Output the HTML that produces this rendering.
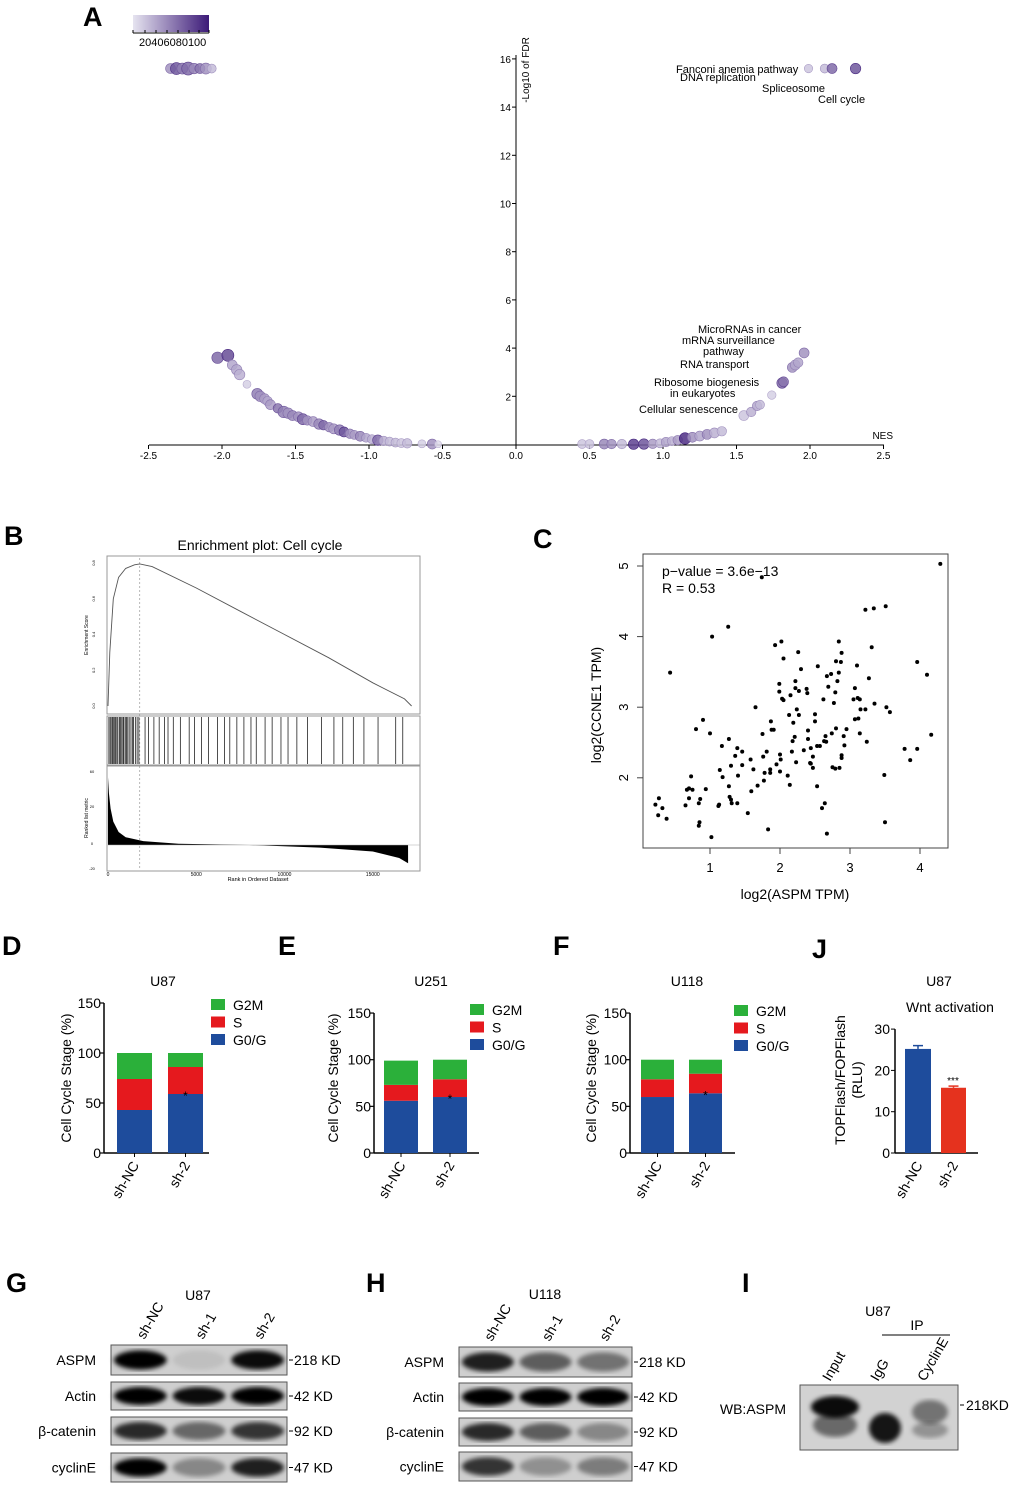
<!DOCTYPE html>
<html><head><meta charset="utf-8"><style>
html,body{margin:0;padding:0;background:#fff}
svg{display:block;font-family:"Liberation Sans",Arial,sans-serif}
</style></head><body>
<svg id="fig" width="1020" height="1488" viewBox="0 0 1020 1488" xmlns="http://www.w3.org/2000/svg">
<defs>
<filter id="blur2"><feGaussianBlur stdDeviation="2.5"/></filter>
<filter id="blur1"><feGaussianBlur stdDeviation="1.2"/></filter>
<linearGradient id="cbar" x1="0" x2="1" y1="0" y2="0"><stop offset="0" stop-color="#e6e4f0"/><stop offset="1" stop-color="#3c1a78"/></linearGradient>
</defs>
<g id="gA"></g>
<g id="gB"></g>
<g id="gC"></g>
<g id="gD"></g>
<g id="gWB"></g>
</svg>
<script>
// ---------- Panel A data ----------
const nesVals=[-2.35,-2.31,-2.27,-2.23,-2.19,-2.15,-2.11,-2.07,-2.03,-1.96,-1.93,-1.9,-1.88,-1.83,-1.76,-1.74,-1.71,-1.69,-1.67,-1.62,-1.58,-1.55,-1.52,-1.48,-1.45,-1.42,-1.38,-1.34,-1.31,-1.27,-1.24,-1.2,-1.17,-1.13,-1.1,-1.06,-1.02,-0.98,-0.94,-0.9,-0.86,-0.82,-0.78,-0.74,-0.64,-0.57,-0.53,0.45,0.5,0.6,0.65,0.72,0.8,0.87,0.93,0.98,1.02,1.06,1.1,1.15,1.2,1.25,1.3,1.35,1.4,1.55,1.6,1.64,1.66,1.74,1.81,1.82,1.88,1.9,1.92,1.96,1.99,2.1,2.15,2.31];
const fdrVals=[15.6,15.6,15.6,15.6,15.6,15.6,15.6,15.6,3.6,3.7,3.3,3.1,2.9,2.5,2.1,2.0,1.9,1.8,1.65,1.5,1.35,1.3,1.2,1.15,1.05,1.0,0.95,0.85,0.8,0.72,0.65,0.6,0.52,0.45,0.4,0.34,0.28,0.22,0.18,0.15,0.12,0.08,0.06,0.05,0.03,0.02,0.01,0.02,0.02,0.02,0.02,0.02,0.01,0.02,0.03,0.05,0.1,0.14,0.18,0.25,0.3,0.35,0.42,0.48,0.55,1.2,1.35,1.6,1.65,2.05,2.55,2.6,3.2,3.3,3.4,3.8,15.6,15.6,15.6,15.6];
const sizeVals=[40,60,50,70,45,40,50,30,55,60,40,45,45,20,50,45,40,35,40,35,55,45,40,40,50,35,40,45,35,35,40,45,40,35,30,40,30,30,45,35,30,30,30,35,20,40,10,30,30,40,35,35,45,45,35,30,35,30,35,55,40,40,40,40,35,40,35,35,30,25,45,40,40,40,35,40,25,30,40,45];
const colorVals=[40,70,50,60,45,55,40,20,60,75,30,30,25,10,50,40,35,30,35,55,50,40,45,40,60,40,35,45,60,40,35,50,70,40,35,45,30,25,60,25,20,20,15,20,10,40,5,15,15,45,40,20,80,70,35,20,30,25,35,90,40,30,40,25,20,15,25,30,20,10,60,55,40,30,30,40,15,20,60,70];
const aXTicks=[-2.5,-2.0,-1.5,-1.0,-0.5,0.0,0.5,1.0,1.5,2.0,2.5];
const aYTicks=[2,4,6,8,10,12,14,16];
// ---------- Panel B data ----------
const esRank=[0,100,300,600,1000,1500,1800,2500,5000,7500,10000,12500,15000,16800,17200];
const esScore=[0,0.3,0.6,0.72,0.77,0.79,0.795,0.78,0.66,0.53,0.40,0.27,0.13,0.04,0];
const hitRanks=[50,120,180,250,300,380,420,500,560,650,700,780,850,900,980,1050,1120,1200,1300,1380,1450,1550,1650,1750,2100,2300,2600,2900,3200,3400,3700,4100,4600,4900,5300,5700,6200,6600,6900,7300,7700,8100,8400,8900,9300,9800,10200,10700,11300,12100,12800,13300,13900,14500,15300,16300,16700];
const metricRank=[0,50,150,300,600,1000,2000,4000,8000,12000,15000,16500,17000];
const metricVal=[52,40,28,18,10,6,3,1,0,-2,-5,-10,-14];
// ---------- Panel C data ----------
const aspmX=[0.22,0.27,0.26,0.32,0.38,0.43,0.65,0.67,0.70,0.73,0.70,0.75,0.80,0.84,0.86,0.84,0.85,0.90,0.94,1.0,1.03,1.02,1.12,1.13,1.14,1.17,1.18,1.26,1.27,1.27,1.28,1.30,1.31,1.30,1.36,1.39,1.40,1.39,1.46,1.46,1.54,1.58,1.59,1.62,1.65,1.68,1.74,1.75,1.76,1.77,1.78,1.81,1.83,1.86,1.86,1.87,1.88,1.91,1.93,1.95,1.99,1.99,2.0,2.0,2.01,2.02,2.03,2.05,2.05,2.11,2.13,2.14,2.15,2.17,2.18,2.19,2.21,2.22,2.22,2.23,2.24,2.26,2.27,2.27,2.30,2.34,2.38,2.39,2.40,2.40,2.43,2.44,2.44,2.47,2.47,2.50,2.50,2.53,2.53,2.54,2.57,2.60,2.62,2.63,2.64,2.65,2.66,2.67,2.67,2.69,2.73,2.74,2.75,2.77,2.79,2.79,2.80,2.80,2.82,2.84,2.84,2.85,2.87,2.88,2.88,2.88,2.91,2.92,2.95,3.05,3.07,3.07,3.10,3.11,3.12,3.14,3.14,3.15,3.22,3.22,3.24,3.27,3.31,3.34,3.35,3.49,3.50,3.51,3.52,3.57,3.78,3.86,3.96,3.96,4.10,4.16,4.29];
const ccneY=[1.62,1.71,1.47,1.57,1.42,3.49,1.61,1.83,1.85,2.02,1.71,1.83,2.69,1.64,1.70,1.32,1.37,2.82,1.84,2.63,4.0,1.16,1.60,1.62,2.11,2.45,2.01,4.14,2.55,1.88,1.73,1.69,1.64,2.17,2.31,2.42,2.03,1.64,2.37,2.18,1.50,2.26,1.81,2.12,3.0,1.89,4.84,2.62,2.30,1.96,2.07,2.37,1.27,2.07,2.12,2.80,2.68,2.68,3.88,2.19,3.33,3.22,2.33,2.09,2.26,3.93,3.12,3.10,3.69,2.03,2.89,1.90,3.17,2.37,2.52,2.78,2.58,3.37,3.27,2.22,2.97,3.78,3.23,2.89,3.54,2.39,3.26,3.20,2.67,2.55,2.21,2.42,2.20,2.30,2.14,2.90,2.80,1.88,2.45,3.58,2.45,1.57,3.11,2.52,1.64,2.59,2.51,1.21,3.44,3.29,3.47,2.63,2.15,3.06,2.13,3.21,2.70,3.65,3.37,3.49,3.93,2.14,3.64,3.77,2.32,2.28,2.59,2.46,2.69,3.11,3.27,2.83,3.59,3.13,2.84,3.11,2.63,2.97,2.97,4.38,2.51,3.41,3.85,4.40,3.05,2.04,1.37,4.43,3.00,2.93,2.41,2.25,3.64,2.41,3.46,2.61,5.03];
const cXTicks=[1,2,3,4];
const cYTicks=[2,3,4,5];
// ---------- Panels D/E/F/J data ----------
const cellGroups=["sh-NC","sh-2"];
const phaseNames=["G2M","S","G0/G"];
const u87G0=[43,59], u87S=[31,27], u87G2M=[26,14];
const u251G0=[56,60], u251S=[17,19], u251G2M=[26,21];
const u118G0=[60,64], u118S=[19,21], u118G2M=[21,15];
const stackTicks=[0,50,100,150];
const wntVals=[25.2,15.8];
const wntErr=[0.8,0.4];
const wntTicks=[0,10,20,30];

const NS="http://www.w3.org/2000/svg";
function mk(parent,tag,attrs,text){const e=document.createElementNS(NS,tag);for(const k in attrs)e.setAttribute(k,attrs[k]);if(text!==undefined)e.textContent=text;parent.appendChild(e);return e;}
function label(parent,x,y,t,size,anchor,extra){const e=mk(parent,'text',Object.assign({x:x,y:y,'font-size':size,'text-anchor':anchor||'start',fill:'#000'},extra||{}),t);return e;}

// ================= Panel A =================
(function(){
const g=document.getElementById('gA');
const ax=v=>516+v*147, ay=v=>444.5-v*24.1;
let t=label(g,83,26,'A',27,'start',{'font-weight':'bold'});

let cb=mk(g,'rect',{x:133,y:15,width:76,height:17,fill:'url(#cbar)'});

mk(g,'line',{x1:133,y1:33,x2:209,y2:33,stroke:'#000','stroke-width':1});
[133,145,156,167,178,189,199,209].forEach(x=>mk(g,'line',{x1:x,y1:30,x2:x,y2:33,stroke:'#000'}));
t=label(g,139,46,'20406080100',11);
let xl=mk(g,'line',{x1:149,y1:445,x2:884,y2:445,stroke:'#000','stroke-width':1});

let yl=mk(g,'line',{x1:516,y1:55,x2:516,y2:445,stroke:'#000','stroke-width':1});

aXTicks.forEach(v=>{mk(g,'line',{x1:ax(v),y1:445,x2:ax(v),y2:449,stroke:'#000'});
 const e=label(g,ax(v),459,v.toFixed(1),10,'middle');});
aYTicks.forEach(v=>{mk(g,'line',{x1:512,y1:ay(v),x2:516,y2:ay(v),stroke:'#000'});
 const e=label(g,511,ay(v)+4,String(v),10,'end');});
t=label(g,0,0,'-Log10 of FDR',10,'middle',{transform:'translate(529,70) rotate(-90)'});

t=label(g,893,439,'NES',10,'end');
function col(c){const a=[230,228,240],b=[60,26,120];const f=c/100;return 'rgb('+a.map((v,i)=>Math.round(v+(b[i]-v)*f)).join(',')+')';}
nesVals.forEach((n,i)=>{const c=mk(g,'circle',{cx:ax(n),cy:ay(fdrVals[i]),r:3+sizeVals[i]/20,fill:col(colorVals[i]),'fill-opacity':0.85,stroke:col(Math.min(100,colorVals[i]+20)),'stroke-width':0.6});
 });
const anns=[['Fanconi anemia pathway',676,73],['DNA replication',680,81],['Spliceosome',762,92],['Cell cycle',818,103],['MicroRNAs in cancer',698,333],['mRNA surveillance',682,344],['pathway',703,355],['RNA transport',680,368],['Ribosome biogenesis',654,386],['in eukaryotes',670,397],['Cellular senescence',639,413]];
anns.forEach(a=>{const e=label(g,a[1],a[2],a[0],11);});
})();

// ================= Panel B =================
(function(){
const g=document.getElementById('gB');
const bx=r=>108+r*0.01765, by=v=>706-v*178.75;
let t=label(g,4,545,'B',27,'start',{'font-weight':'bold'});
t=label(g,260,550,'Enrichment plot: Cell cycle',14,'middle');
[[556,158],[716,49],[766,105]].forEach((r,i)=>{const e=mk(g,'rect',{x:107,y:r[0],width:313,height:r[1],fill:'none',stroke:'#999','stroke-width':1});
 });
[0,0.2,0.4,0.6,0.8].forEach(v=>label(g,93,by(v)+2,v.toFixed(1),4,'middle',{transform:'rotate(-90 93 '+by(v)+')'}));
label(g,0,0,'Enrichment Score',5,'middle',{transform:'translate(88,635) rotate(-90)'});
label(g,0,0,'Ranked list metric',5,'middle',{transform:'translate(88,818) rotate(-90)'});
mk(g,'line',{x1:bx(1800),y1:558,x2:bx(1800),y2:870,stroke:'#888','stroke-dasharray':'2,2','stroke-width':0.6});
let d='';esRank.forEach((r,i)=>{d+=(i?'L':'M')+bx(r).toFixed(1)+','+by(esScore[i]).toFixed(1);});
let p=mk(g,'path',{d:d,fill:'none',stroke:'#555','stroke-width':0.9});
hitRanks.forEach(r=>{const l=mk(g,'line',{x1:bx(r),y1:717,x2:bx(r),y2:764,stroke:'#222','stroke-width':0.8});});
const my=v=>845-v*1.3;
let md='M'+bx(0)+','+my(0);metricRank.forEach((r,i)=>{md+='L'+bx(r).toFixed(1)+','+my(metricVal[i]).toFixed(1);});md+='L'+bx(17000)+','+my(0)+'Z';
p=mk(g,'path',{d:md,fill:'#000'});
mk(g,'line',{x1:108,y1:845,x2:420,y2:845,stroke:'#aaa','stroke-width':0.5});
[[108,'0'],[bx(5000),'5000'],[bx(10000),'10000'],[bx(15000),'15000']].forEach(a=>label(g,a[0],876,a[1],5,'middle'));
label(g,258,881,'Rank in Ordered Dataset',5.5,'middle');
[[773,'60'],[808,'20'],[845,'0'],[870,'-20']].forEach(a=>label(g,92,a[0],a[1],4,'middle'));
})();

// ================= Panel C =================
(function(){
const g=document.getElementById('gC');
const cx=v=>640+v*70, cy=v=>919-v*70.6;
let t=label(g,533,548,'C',27,'start',{'font-weight':'bold'});
let b=mk(g,'rect',{x:643,y:554,width:305,height:294,fill:'none',stroke:'#444','stroke-width':1});
cXTicks.forEach(v=>{mk(g,'line',{x1:cx(v),y1:848,x2:cx(v),y2:854,stroke:'#444'});const e=label(g,cx(v),872,String(v),13,'middle');});
cYTicks.forEach(v=>{mk(g,'line',{x1:637,y1:cy(v),x2:643,y2:cy(v),stroke:'#444'});const e=label(g,0,0,String(v),13,'middle',{transform:'translate(628,'+cy(v)+') rotate(-90)'});});
t=label(g,795,899,'log2(ASPM TPM)',14,'middle');
t=label(g,0,0,'log2(CCNE1 TPM)',14,'middle',{transform:'translate(601,705) rotate(-90)'});
t=label(g,662,576,'p\u2212value = 3.6e\u221213',14);
t=label(g,662,593,'R = 0.53',14);
aspmX.forEach((x,i)=>{const c=mk(g,'circle',{cx:cx(x),cy:cy(ccneY[i]),r:2,fill:'#000'});});
})();

// ================= Panels D/E/F/J =================
(function(){
const g=document.getElementById('gD');
const C={g:'#2bb03a',s:'#e5191e',b:'#1e4c9c'};
function panel(o){
 const sub=mk(g,'g',{});
 const y=v=>o.y0-v*o.k;
 let t=label(sub,o.lx,955,o.letter,27,'start',{'font-weight':'bold'});
 t=label(sub,o.tx,986,o.title,14,'middle');
 mk(sub,'line',{x1:o.axx,y1:y(150),x2:o.axx,y2:o.y0,stroke:'#000','stroke-width':1.5});
 mk(sub,'line',{x1:o.axx,y1:o.y0,x2:o.axx+105,y2:o.y0,stroke:'#000','stroke-width':1.5});
 stackTicks.forEach(v=>{mk(sub,'line',{x1:o.axx-4,y1:y(v),x2:o.axx,y2:y(v),stroke:'#000','stroke-width':1.2});const e=label(sub,o.axx-3,y(v)+5,String(v),14,'end');});
 t=label(sub,0,0,'Cell  Cycle Stage (%)',14,'middle',{transform:'translate('+o.ytx+','+(o.y0-75)+') rotate(-90)'});
 cellGroups.forEach((c,i)=>{const bx=o.bars[i],w=o.bw;
  const g0=o.g0[i],s=o.s[i],g2=o.g2[i];
  let r=mk(sub,'rect',{x:bx,y:y(g0),width:w,height:g0*o.k,fill:C.b});
  r=mk(sub,'rect',{x:bx,y:y(g0+s),width:w,height:s*o.k,fill:C.s});
  r=mk(sub,'rect',{x:bx,y:y(g0+s+g2),width:w,height:g2*o.k,fill:C.g});
  mk(sub,'line',{x1:bx+w/2,y1:o.y0,x2:bx+w/2,y2:o.y0+4,stroke:'#000'});
  const e=label(sub,0,0,c,14,'end',{transform:'translate('+(bx+w/2+5)+','+(o.y0+12)+') rotate(-60)'});
 });
 label(sub,o.bars[1]+o.bw/2,y(o.g0[1])+6,'*',12,'middle');
 phaseNames.forEach((p,i)=>{const ly=o.legY+i*17.5;const r=mk(sub,'rect',{x:o.legX,y:ly-6,width:14,height:11,fill:[C.g,C.s,C.b][i]});
  const e=label(sub,o.legX+22,ly+5,p,14);});
}
panel({name:'panel-d',letter:'D',lx:2,title:'U87',tx:163,axx:104,y0:1153,k:1.0,bars:[117,168],bw:35,g0:u87G0,s:u87S,g2:u87G2M,legX:211,legY:1005,ytx:71});
panel({name:'panel-e',letter:'E',lx:278,title:'U251',tx:431,axx:374,y0:1153,k:0.933,bars:[384,433],bw:34,g0:u251G0,s:u251S,g2:u251G2M,legX:470,legY:1010,ytx:338});
panel({name:'panel-f',letter:'F',lx:553,title:'U118',tx:687,axx:630,y0:1153,k:0.933,bars:[641,689],bw:33,g0:u118G0,s:u118S,g2:u118G2M,legX:734,legY:1011,ytx:596});
// J
const sub=mk(g,'g',{});
const y0=1153,k=4.13,yj=v=>y0-v*k,axx=895;
let t=label(sub,812,958,'J',27,'start',{'font-weight':'bold'});
t=label(sub,939,986,'U87',14,'middle');
t=label(sub,950,1012,'Wnt activation',14,'middle');
mk(sub,'line',{x1:axx,y1:yj(30),x2:axx,y2:y0,stroke:'#000','stroke-width':1.5});
mk(sub,'line',{x1:axx,y1:y0,x2:978,y2:y0,stroke:'#000','stroke-width':1.5});
wntTicks.forEach(v=>{mk(sub,'line',{x1:axx-4,y1:yj(v),x2:axx,y2:yj(v),stroke:'#000'});const e=label(sub,axx-5,yj(v)+5,String(v),14,'end');});
t=label(sub,0,0,'TOPFlash/FOPFlash',14,'middle',{transform:'translate(845,1080) rotate(-90)'});
t=label(sub,0,0,'(RLU)',14,'middle',{transform:'translate(862,1080) rotate(-90)'});
const jb=[[905,26,'#1e4c9c'],[941,25,'#e5321e']];
cellGroups.forEach((c,i)=>{const x=jb[i][0],w=jb[i][1];
 const r=mk(sub,'rect',{x:x,y:yj(wntVals[i]),width:w,height:wntVals[i]*k,fill:jb[i][2]});
 mk(sub,'line',{x1:x+w/2,y1:yj(wntVals[i]+wntErr[i]),x2:x+w/2,y2:yj(wntVals[i]),stroke:jb[i][2],'stroke-width':1.5});
 mk(sub,'line',{x1:x+w/2-5,y1:yj(wntVals[i]+wntErr[i]),x2:x+w/2+5,y2:yj(wntVals[i]+wntErr[i]),stroke:jb[i][2],'stroke-width':1.5});
 const e=label(sub,0,0,c,14,'end',{transform:'translate('+(x+w/2+5)+','+(y0+12)+') rotate(-60)'});
});
label(sub,953,yj(wntVals[1]+wntErr[1])-2,'***',10,'middle');
})();

// ================= Western blots =================
(function(){
const g=document.getElementById('gWB');
function blot(parent,x,y,w,h,lanes,bandName){
 const b=mk(parent,'g',{});
 mk(b,'rect',{x:x,y:y,width:w,height:h,fill:'#cfcfcf',stroke:'#555','stroke-width':1});
 const lw=w/lanes.length;
 lanes.forEach((it,i)=>{if(it<=0)return;mk(b,'ellipse',{cx:x+lw*i+lw/2,cy:y+h/2,rx:lw*0.45,ry:h*0.32,fill:'#000','fill-opacity':it,filter:'url(#blur2)'});});
}
function group(o){
 const sub=mk(g,'g',{});
 let t=label(sub,o.lx,1292,o.letter,27,'start',{'font-weight':'bold'});
 t=label(sub,o.tx,o.ty,o.title,14,'middle');
 o.lanes.forEach((ln,i)=>{const x=o.x+o.w/6*(2*i+1)+4;const e=label(sub,0,0,ln,14,'start',{transform:'translate('+x+','+o.laneY+') rotate(-60)'});});
 o.rows.forEach(r=>{blot(sub,o.x,r.y,o.w,r.h,r.i,'blot-'+r.n.replace(/[^a-z]/gi,'').toLowerCase());
  const e=label(sub,o.x-15,r.y+r.h/2+5,r.n,14,'end');
  mk(sub,'line',{x1:o.x+o.w+2,y1:r.y+r.h/2,x2:o.x+o.w+6,y2:r.y+r.h/2,stroke:'#000'});
  const k=label(sub,o.x+o.w+7,r.y+r.h/2+5,r.kd,14);
 });
}
group({name:'panel-g',letter:'G',lx:6,title:'U87',tx:198,ty:1300,x:111,w:176,laneY:1340,lanes:['sh-NC','sh-1','sh-2'],
 rows:[{n:'ASPM',y:1345,h:30,kd:'218 KD',i:[1,0.08,0.95]},{n:'Actin',y:1382,h:28,kd:'42 KD',i:[1,0.95,1]},{n:'\u03b2-catenin',y:1417,h:28,kd:'92 KD',i:[0.8,0.5,0.75]},{n:'cyclinE',y:1453,h:29,kd:'47 KD',i:[1,0.35,0.85]}]});
group({name:'panel-h',letter:'H',lx:366,title:'U118',tx:545,ty:1299,x:459,w:173,laneY:1342,lanes:['sh-NC','sh-1','sh-2'],
 rows:[{n:'ASPM',y:1347,h:30,kd:'218 KD',i:[0.85,0.55,0.45]},{n:'Actin',y:1383,h:28,kd:'42 KD',i:[1,1,1]},{n:'\u03b2-catenin',y:1418,h:28,kd:'92 KD',i:[0.8,0.55,0.35]},{n:'cyclinE',y:1452,h:29,kd:'47 KD',i:[0.75,0.3,0.4]}]});
// I
const sub=mk(g,'g',{});
let t=label(sub,742,1292,'I',27,'start',{'font-weight':'bold'});
t=label(sub,878,1316,'U87',14,'middle');
label(sub,917,1330,'IP',14,'middle');
mk(sub,'line',{x1:882,y1:1335,x2:950,y2:1335,stroke:'#000'});
[['Input',830],['IgG',878],['CyclinE',925]].forEach(a=>{const e=label(sub,0,0,a[0],14,'start',{transform:'translate('+a[1]+',1382) rotate(-60)'});});
const bb=mk(sub,'g',{});
mk(bb,'rect',{x:800,y:1385,width:158,height:65,fill:'#d2d2d2',stroke:'#555'});
mk(bb,'ellipse',{cx:835,cy:1407,rx:24,ry:11,fill:'#000','fill-opacity':0.95,filter:'url(#blur2)'});
mk(bb,'ellipse',{cx:835,cy:1425,rx:22,ry:12,fill:'#000','fill-opacity':0.5,filter:'url(#blur2)'});
mk(bb,'ellipse',{cx:885,cy:1428,rx:16,ry:15,fill:'#000','fill-opacity':0.9,filter:'url(#blur2)'});
mk(bb,'ellipse',{cx:930,cy:1412,rx:18,ry:12,fill:'#000','fill-opacity':0.45,filter:'url(#blur2)'});
mk(bb,'ellipse',{cx:930,cy:1430,rx:18,ry:8,fill:'#000','fill-opacity':0.3,filter:'url(#blur2)'});
t=label(sub,786,1414,'WB:ASPM',14,'end');
mk(sub,'line',{x1:960,y1:1405,x2:964,y2:1405,stroke:'#000'});
t=label(sub,966,1410,'218KD',14);
})();
</script>
</body></html>
